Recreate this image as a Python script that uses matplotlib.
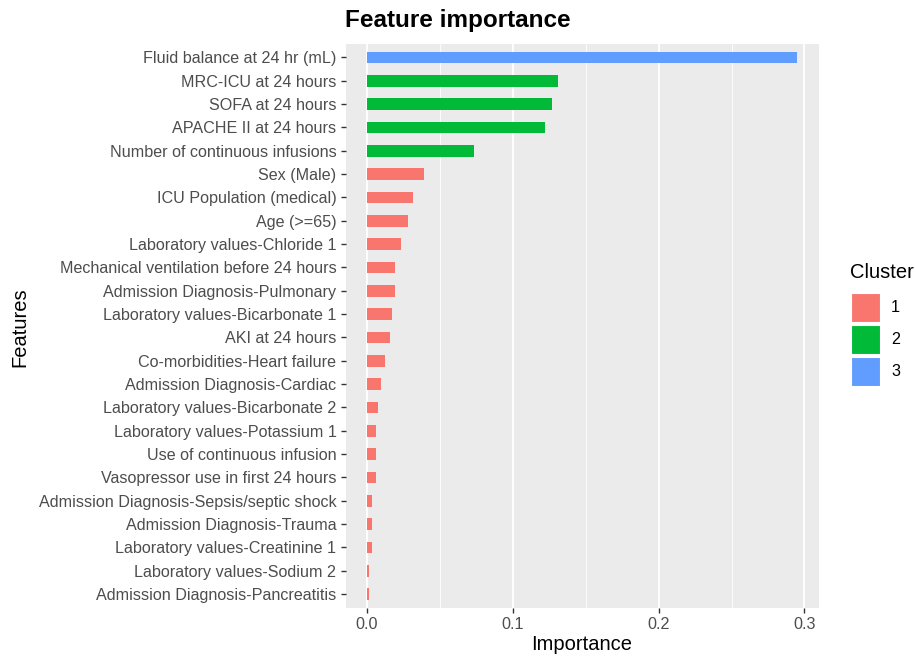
import matplotlib.pyplot as plt
import matplotlib.patches as mpatches
import numpy as np

plt.rcParams['font.family'] = ['Liberation Sans', 'DejaVu Sans']

features = [
    "Fluid balance at 24 hr (mL)",
    "MRC-ICU at 24 hours",
    "SOFA at 24 hours",
    "APACHE II at 24 hours",
    "Number of continuous infusions",
    "Sex (Male)",
    "ICU Population (medical)",
    "Age (>=65)",
    "Laboratory values-Chloride 1",
    "Mechanical ventilation before 24 hours",
    "Admission Diagnosis-Pulmonary",
    "Laboratory values-Bicarbonate 1",
    "AKI at 24 hours",
    "Co-morbidities-Heart failure",
    "Admission Diagnosis-Cardiac",
    "Laboratory values-Bicarbonate 2",
    "Laboratory values-Potassium 1",
    "Use of continuous infusion",
    "Vasopressor use in first 24 hours",
    "Admission Diagnosis-Sepsis/septic shock",
    "Admission Diagnosis-Trauma",
    "Laboratory values-Creatinine 1",
    "Laboratory values-Sodium 2",
    "Admission Diagnosis-Pancreatitis",
]
importance = [0.2952, 0.1310, 0.1267, 0.1219, 0.0735, 0.0388, 0.0315, 0.0281,
              0.0233, 0.0192, 0.0192, 0.0171, 0.0158, 0.0123, 0.0096, 0.0077,
              0.0062, 0.0062, 0.0062, 0.0034, 0.0034, 0.0034, 0.0016, 0.0016]
cluster = [3, 2, 2, 2, 2] + [1] * 19
cluster_levels = [1, 2, 3]

palette = {1: '#F8766D', 2: '#00BA38', 3: '#619CFF'}

fig = plt.figure(figsize=(9.16, 6.58), dpi=100)
W, H = 916, 658
ax = fig.add_axes([345.5 / W, 1 - 608 / H, (819 - 345.5) / W, (608 - 43.5) / H])

n = len(features)
ypos = np.arange(n)[::-1]
ax.barh(ypos, importance, height=0.5, color=[palette[c] for c in cluster])

ax.set_facecolor('#EBEBEB')
xmax = max(importance)
ax.set_xlim(-0.05 * xmax, 1.05 * xmax)
ax.set_ylim(-0.6, n - 1 + 0.6)
ax.set_xticks([0, 0.1, 0.2, 0.3])
ax.set_xticklabels(['0.0', '0.1', '0.2', '0.3'])
ax.set_xticks([0.05, 0.15, 0.25], minor=True)
ax.set_yticks(ypos)
ax.set_yticklabels(features)
ax.grid(axis='x', which='major', color='white', linewidth=1.3)
ax.grid(axis='x', which='minor', color='white', linewidth=0.6)
ax.set_axisbelow(True)
for s in ax.spines.values():
    s.set_visible(False)
ax.tick_params(axis='both', which='major', length=3.5, width=1.0, color='#333333',
               labelsize=11.6, labelcolor='#4D4D4D', pad=3)
ax.tick_params(axis='x', which='minor', length=0)

# axis titles and plot title
fig.text(582 / W, 1 - 645 / H, 'Importance', ha='center', va='center', fontsize=14.5)
fig.text(20 / W, 1 - 327 / H, 'Features', ha='center', va='center', rotation=90, fontsize=14.5)
fig.text(0.5, 1 - 20 / H, 'Feature importance', ha='center', va='center',
         fontsize=17.5, fontweight='bold')

# legend drawn by hand (ggplot-like keys)
fig.text(850 / W, 1 - 272 / H, 'Cluster', ha='left', va='center', fontsize=14.5)
for i, k in enumerate(cluster_levels):
    top = 293 + 32 * i
    fig.add_artist(mpatches.Rectangle((851 / W, 1 - (top + 29) / H), 29 / W, 29 / H,
                                      transform=fig.transFigure, facecolor=palette[k],
                                      edgecolor='white', linewidth=0.8))
    fig.text(891 / W, 1 - (top + 14.5) / H, str(k), ha='left', va='center', fontsize=11.6)

fig.savefig('out.png', dpi=100)
